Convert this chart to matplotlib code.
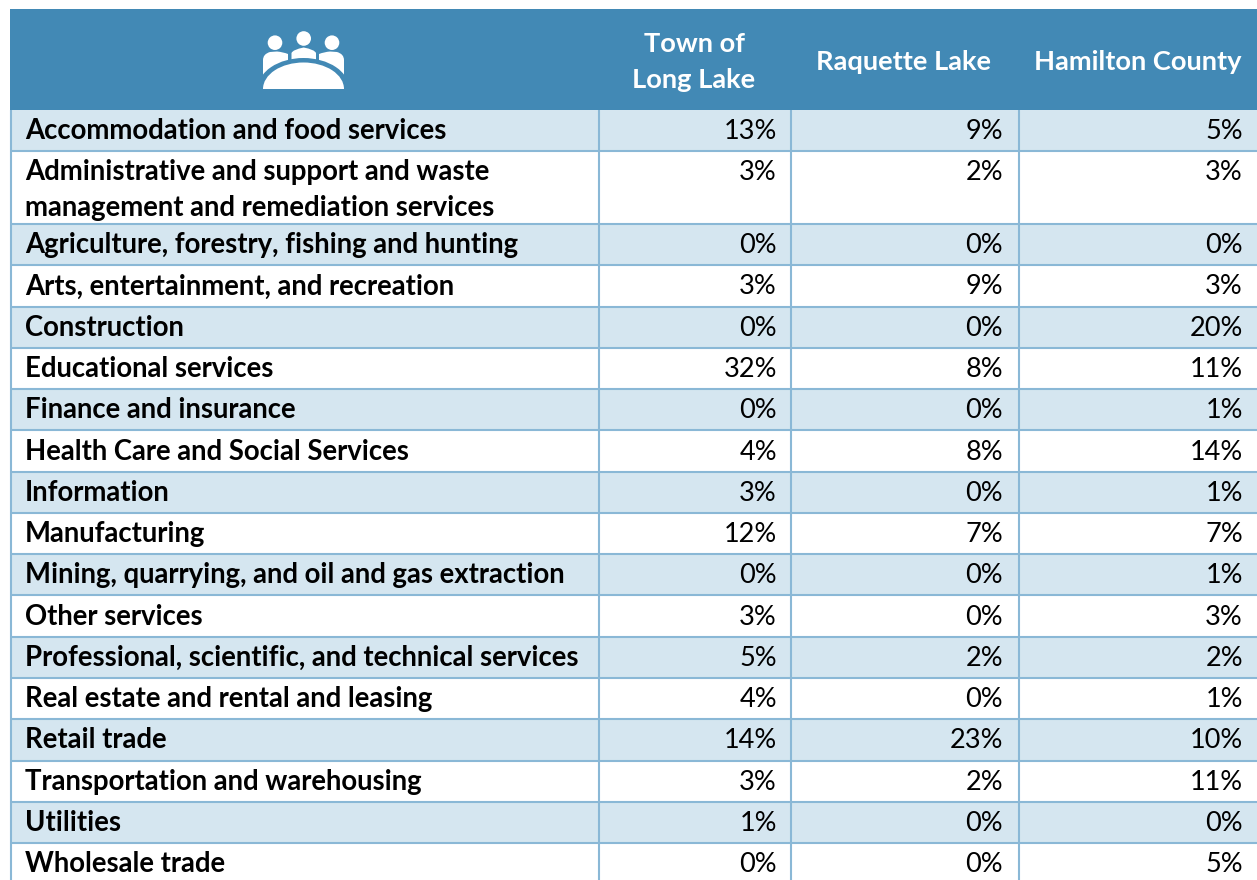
import matplotlib
matplotlib.use('Agg')
import matplotlib.pyplot as plt
from matplotlib.patches import Rectangle, Circle, Ellipse, PathPatch
from matplotlib.path import Path

plt.rcParams['font.family'] = ['Lato', 'DejaVu Sans']

columns = ['Town of\nLong Lake', 'Raquette Lake', 'Hamilton County']
industries = [
    'Accommodation and food services',
    'Administrative and support and waste\nmanagement and remediation services',
    'Agriculture, forestry, fishing and hunting',
    'Arts, entertainment, and recreation',
    'Construction',
    'Educational services',
    'Finance and insurance',
    'Health Care and Social Services',
    'Information',
    'Manufacturing',
    'Mining, quarrying, and oil and gas extraction',
    'Other services',
    'Professional, scientific, and technical services',
    'Real estate and rental and leasing',
    'Retail trade',
    'Transportation and warehousing',
    'Utilities',
    'Wholesale trade',
]
long_lake = [13, 3, 0, 3, 0, 32, 0, 4, 3, 12, 0, 3, 5, 4, 14, 3, 1, 0]
raquette = [9, 2, 0, 9, 0, 8, 0, 8, 0, 7, 0, 0, 2, 0, 23, 2, 0, 0]
hamilton = [5, 3, 0, 3, 20, 11, 1, 14, 1, 7, 1, 3, 2, 1, 10, 11, 0, 5]

HEADER = '#4289B5'
BAND = '#D5E6F0'
GRID = '#8AB8D6'

W, H = 1257, 880
LEFT, TOP, HEADER_BOTTOM = 10, 9, 110
COL_EDGES = [599, 791, 1019]
COL_RIGHT = [777, 1003, 1243]
COL_CENTER = [694, 904, 1138]
LINE_H = 35.5
SIZE_LABEL = 19.8
SIZE_VALUE = 19.5
SIZE_HEAD = 19.6

fig = plt.figure(figsize=(W / 100, H / 100), dpi=100)
ax = fig.add_axes([0, 0, 1, 1])
ax.set_xlim(0, W)
ax.set_ylim(H, 0)
ax.axis('off')

# header
ax.add_patch(Rectangle((LEFT, TOP), W - LEFT, HEADER_BOTTOM - TOP, fc=HEADER, ec='none'))
for name, cx in zip(columns, COL_CENTER):
    parts = name.split('\n')
    for i, part in enumerate(parts):
        base = 70.5 + (i - (len(parts) - 1) / 2) * 36
        ax.text(cx, base, part, color='white', fontsize=SIZE_HEAD, fontweight='bold',
                ha='center', va='baseline')

# people round a table icon
for cx, cy in [(275, 42.7), (303.7, 38.5), (332, 42.7)]:
    ax.add_patch(Circle((cx, cy), 7.3, fc='white', ec='none', zorder=3))
side = [(263, 78), (263, 60), (263, 54), (270, 52), (277, 51.5), (283, 52), (288, 54), (288, 62), (263, 78)]
side_codes = [Path.MOVETO, Path.LINETO, Path.CURVE3, Path.CURVE3, Path.LINETO, Path.CURVE3, Path.CURVE3,
              Path.LINETO, Path.CLOSEPOLY]
ax.add_patch(PathPatch(Path(side, side_codes), fc='white', ec='none', zorder=3))
ax.add_patch(PathPatch(Path([(607 - x, yy) for x, yy in side], side_codes), fc='white', ec='none', zorder=3))
mid = [(291.5, 60), (291.5, 53), (293, 49.5), (303.7, 47.5), (314.5, 49.5), (316, 53), (316, 60), (291.5, 60)]
mid_codes = [Path.MOVETO, Path.LINETO, Path.CURVE3, Path.CURVE3, Path.CURVE3, Path.CURVE3, Path.LINETO, Path.CLOSEPOLY]
ax.add_patch(PathPatch(Path(mid, mid_codes), fc='white', ec='none', zorder=3))

clip = Rectangle((250, 20), 110, 69, transform=ax.transData)
ring = Ellipse((303.5, 89), 91.6, 62, fc=HEADER, ec='none', zorder=4)
dome = Ellipse((303.5, 89), 81, 53, fc='white', ec='none', zorder=5)
for shape in (ring, dome):
    ax.add_patch(shape)
    shape.set_clip_path(clip)

# rows
y = HEADER_BOTTOM
bounds = [y]
for i, label in enumerate(industries):
    n = label.count('\n') + 1
    h = 41 if i == 0 else (73 if n == 2 else 41.27)
    if i % 2 == 0:
        ax.add_patch(Rectangle((LEFT, y), W - LEFT, h, fc=BAND, ec='none', zorder=1))
    base = y + 29.2
    for j, part in enumerate(label.split('\n')):
        ax.text(25, base + j * LINE_H, part, color='black', fontsize=SIZE_LABEL,
                fontweight='bold', ha='left', va='baseline', zorder=3)
    for col, right in zip((long_lake, raquette, hamilton), COL_RIGHT):
        ax.text(right, base, f'{col[i]}%', color='black', fontsize=SIZE_VALUE,
                ha='right', va='baseline', zorder=3)
    y += h
    bounds.append(y)

for b in bounds[1:]:
    ax.plot([LEFT, W], [b, b], color=GRID, lw=1.5, solid_capstyle='butt', zorder=2)
for x in [LEFT + 1] + COL_EDGES:
    ax.plot([x, x], [HEADER_BOTTOM, H], color=GRID, lw=1.5, solid_capstyle='butt', zorder=2)

fig.savefig('out.png', dpi=100)
